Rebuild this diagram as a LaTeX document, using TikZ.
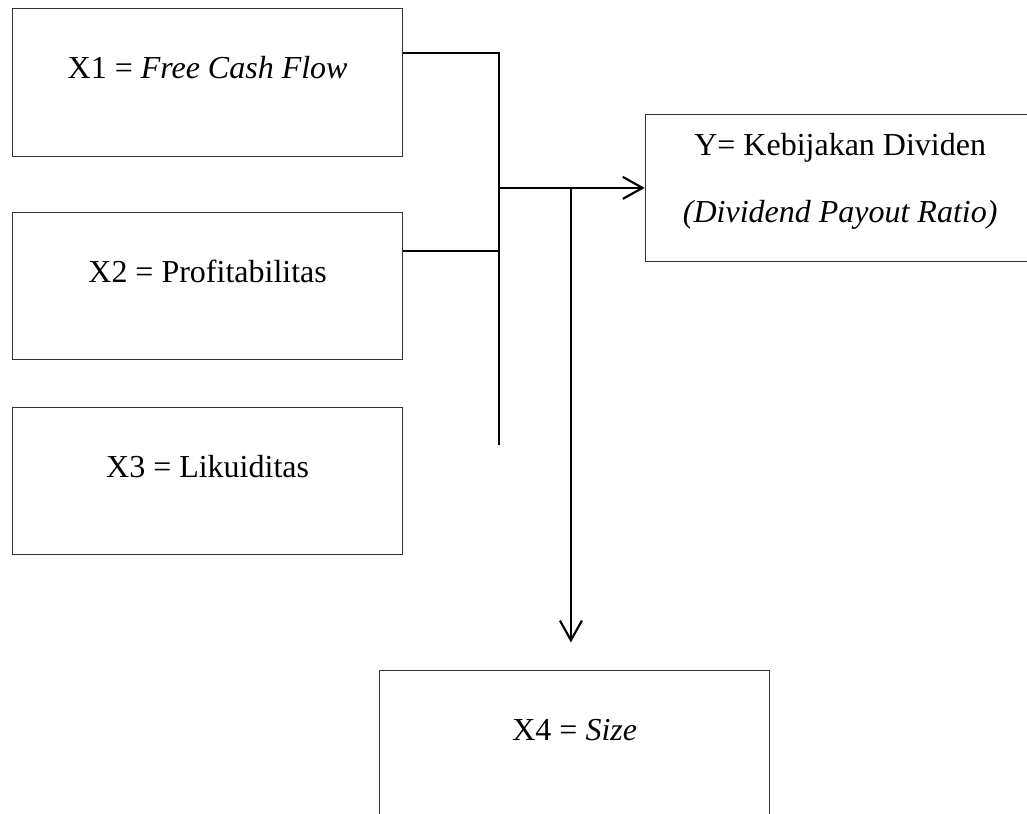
\documentclass[tikz,border=0pt]{standalone}
\usepackage{fontspec}
\setmainfont{Liberation Serif}
\usetikzlibrary{arrows.meta,positioning,calc}
\tikzset{
  boxbase/.style={draw=black!80,line width=0.4pt,anchor=north west,
                  minimum width=51.4mm,minimum height=19.4mm,inner sep=0pt,
                  align=center},
  varbox/.style ={boxbase,text height=10pt,text depth=12.7pt},
  depbox/.style ={boxbase,font=\fontsize{12pt}{25.1pt}\selectfont},
  sig/.style    ={-{Straight Barb[length=2.6mm,width=2.9mm]},draw=black,line width=0.8pt},
  bus/.style    ={draw=black,line width=0.8pt},
}
\begin{document}
\begin{tikzpicture}[x=1mm,y=1mm,font=\fontsize{12pt}{14pt}\selectfont]
\path[use as bounding box,clip] (0,0) rectangle (135.4,-107.3);

\node[varbox] (fcf)  at (1.6,-1.1)  {X1 = \textit{Free Cash Flow}};
\node[varbox] (prof) at (1.6,-27.9) {X2 = Profitabilitas};
\node[varbox] (liq)  at (1.6,-53.6) {X3 = Likuiditas};
\node[depbox] (dpr)  at (85.0,-15.0)
  {Y= Kebijakan Dividen\\\textit{(Dividend Payout Ratio)}\rule[-7.4pt]{0pt}{0pt}};
\node[varbox] (size) at (50.0,-88.3) {X4 = \textit{Size}};

% collecting rail on the left, taps from X1 and X2
\coordinate (railTop) at (65.8,-7.0);
\coordinate (railBot) at (65.8,-58.7);
\coordinate (tapX2)   at (65.8,-33.1);
\coordinate (drop)    at ([xshift=-0.5mm]size.north);
\draw[bus] (fcf.east |- railTop) -- (railTop) -- (railBot);
\draw[bus] (prof.east |- tapX2) -- (tapX2);
\draw[sig] (railTop |- dpr.west) -- (dpr.west);
\draw[sig] (dpr.west -| drop) -- ([yshift=3.6mm]drop);
\end{tikzpicture}
\end{document}
